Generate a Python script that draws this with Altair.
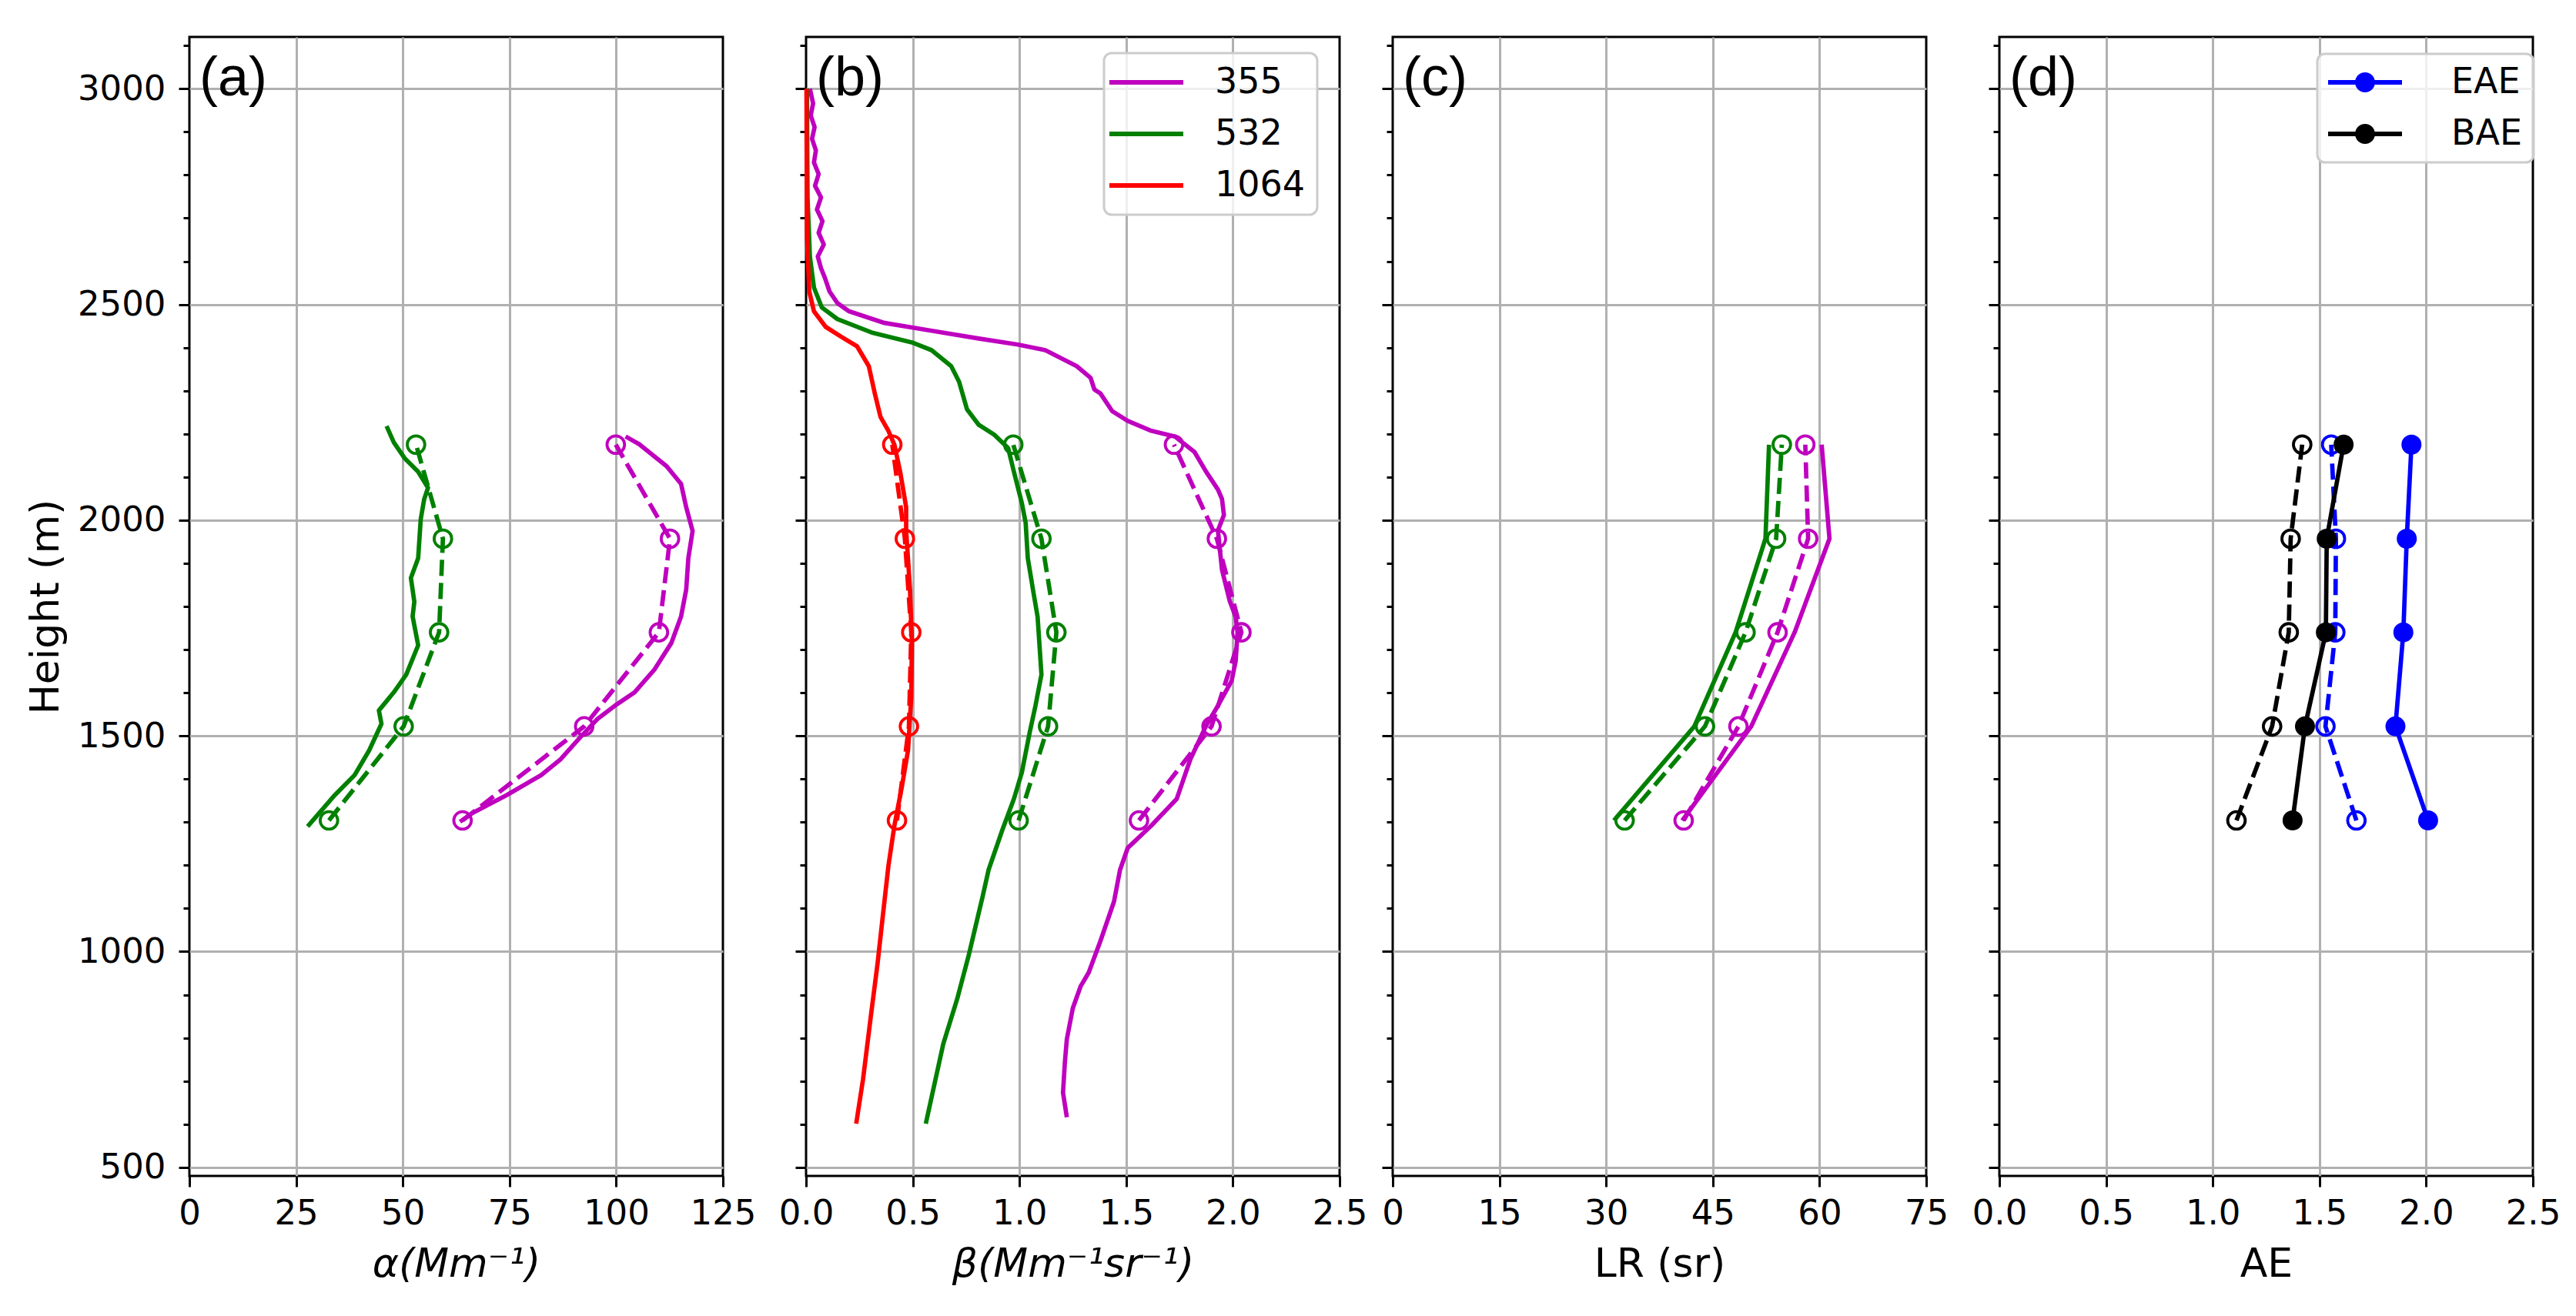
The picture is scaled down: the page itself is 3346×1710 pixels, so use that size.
import altair as alt
import pandas as pd

# ---------------- data ----------------
# heights (m) of the five layer-mean points, bottom to top
heights5 = [1304, 1522, 1740, 1957, 2175]

# (a) extinction alpha (Mm^-1), continuous profiles (top -> bottom)
alpha532_h = [2218, 2180, 2144, 2112, 2075, 2048, 2002, 1912, 1866, 1811,
              1777, 1710, 1642, 1601, 1559, 1528, 1466, 1409, 1363, 1290]
alpha532_v = [46.2, 47.9, 50.4, 53.6, 55.9, 55.0, 54.2, 53.6, 51.9, 52.7,
              52.3, 53.6, 50.8, 47.9, 44.4, 45.0, 42.1, 38.7, 34.1, 27.7]
alpha355_h = [2194, 2176, 2125, 2084, 2030, 1975, 1912, 1839, 1777, 1715,
              1653, 1601, 1570, 1539, 1497, 1446, 1409, 1363, 1321, 1301]
alpha355_v = [102.2, 105.4, 111.8, 115.2, 116.4, 117.9, 116.9, 116.4, 115.2, 112.9,
              108.9, 104.3, 99.7, 95.6, 91.6, 87.0, 82.4, 74.4, 66.3, 63.4]
# (a) layer-mean points (bottom -> top, at heights5)
alpha532_pts = [32.7, 50.2, 58.5, 59.4, 53.1]
alpha355_pts = [64.0, 92.5, 110.0, 112.6, 99.9]

# (b) backscatter beta (Mm^-1 sr^-1), continuous profiles (top -> bottom)
beta355_h = [3000, 2966, 2938, 2911, 2884, 2857, 2829, 2802, 2775, 2748,
             2720, 2693, 2666, 2639, 2611, 2584, 2562, 2530, 2503, 2484,
             2457, 2439, 2421, 2407, 2394, 2357, 2330, 2303, 2294, 2253,
             2230, 2207, 2194, 2158, 2112, 2071, 2049, 2012, 1976, 1885,
             1813, 1776, 1740, 1673, 1627, 1570, 1524, 1446, 1354, 1292,
             1240, 1189, 1116, 1024, 951, 920, 869, 797, 745, 673, 616]
beta355_v = [0.018, 0.033, 0.022, 0.040, 0.028, 0.046, 0.037, 0.059, 0.042, 0.070,
             0.051, 0.077, 0.059, 0.083, 0.055, 0.070, 0.088, 0.110, 0.147, 0.202,
             0.368, 0.588, 0.809, 0.993, 1.121, 1.268, 1.333, 1.351, 1.379, 1.434,
             1.507, 1.618, 1.728, 1.820, 1.875, 1.930, 1.949, 1.958, 1.930, 1.949,
             1.985, 2.013, 2.022, 2.013, 1.994, 1.930, 1.875, 1.801, 1.737, 1.618,
             1.507, 1.471, 1.443, 1.379, 1.324, 1.287, 1.250, 1.222, 1.213, 1.204, 1.222]
beta532_h = [3000, 2748, 2611, 2539, 2493, 2466, 2434, 2412, 2394, 2357,
             2321, 2257, 2221, 2198, 2167, 2112, 2040, 1994, 1912, 1831,
             1776, 1642, 1570, 1508, 1415, 1354, 1281, 1189, 1127, 993,
             890, 786, 601]
beta532_v = [0.004, 0.007, 0.018, 0.037, 0.074, 0.147, 0.313, 0.496, 0.588, 0.680,
             0.717, 0.754, 0.809, 0.882, 0.947, 0.974, 1.011, 1.029, 1.039, 1.066,
             1.085, 1.103, 1.075, 1.048, 1.011, 0.974, 0.919, 0.855, 0.827, 0.763,
             0.708, 0.643, 0.561]
beta1064_h = [3000, 2657, 2530, 2484, 2448, 2425, 2403, 2357, 2294, 2239,
              2207, 2175, 2112, 2030, 1976, 1840, 1715, 1591, 1467, 1385,
              1292, 1199, 1075, 972, 848, 704, 601]
beta1064_v = [0.002, 0.004, 0.015, 0.037, 0.092, 0.165, 0.239, 0.294, 0.322, 0.349,
              0.386, 0.414, 0.441, 0.469, 0.469, 0.487, 0.496, 0.493, 0.478, 0.450,
              0.414, 0.386, 0.358, 0.335, 0.303, 0.267, 0.235]
# (b) layer-mean points (bottom -> top)
beta355_pts = [1.56, 1.90, 2.04, 1.925, 1.724]
beta532_pts = [0.996, 1.134, 1.173, 1.103, 0.971]
beta1064_pts = [0.426, 0.482, 0.493, 0.463, 0.404]

# (c) lidar ratio (sr), bottom -> top
lr532_solid = [31.1, 42.4, 48.2, 52.4, 52.9]
lr355_solid = [40.7, 50.4, 56.5, 61.4, 60.3]
lr532_dash = [32.6, 43.9, 49.6, 53.9, 54.7]
lr355_dash = [40.9, 48.6, 54.1, 58.4, 58.0]

# (d) Angstrom exponents, bottom -> top
eae_solid = [2.009, 1.856, 1.893, 1.909, 1.931]
bae_solid = [1.374, 1.432, 1.530, 1.534, 1.613]
eae_dash = [1.673, 1.528, 1.574, 1.577, 1.555]
bae_dash = [1.111, 1.278, 1.356, 1.365, 1.419]

wavelengths = ["355", "532", "1064"]
ae_names = ["EAE", "BAE"]

# tick values
y_ticks = list(range(500, 3101, 100))
xa_ticks = [0, 25, 50, 75, 100, 125]
xb_ticks = [0, 0.5, 1.0, 1.5, 2.0, 2.5]
xc_ticks = [0, 15, 30, 45, 60, 75]
xd_ticks = [0, 0.5, 1.0, 1.5, 2.0, 2.5]

# ---------------- styling ----------------
MAG, GRN, RED, BLU, BLK = "#bf00bf", "#008000", "#ff0000", "#0000ff", "#000000"
LW = 5.7
DASH = [21, 9]
W, H = 693, 1480
YDOM = [480, 3120]


def frame(h, v, **extra):
    df = pd.DataFrame({"h": h, "v": v})
    df["i"] = list(range(len(df)))
    for k, val in extra.items():
        df[k] = val
    return df


TICKSIZE_Y = {"condition": {"test": "datum.value % 500 === 0", "value": 14}, "value": 8}
GRID_Y = {"condition": {"test": "datum.value % 500 === 0", "value": 1}, "value": 0}


def y_axis(show):
    if show:
        return alt.Axis(values=y_ticks, title="Height (m)", format="d",
                        labelExpr="datum.value % 500 === 0 ? datum.label : ''",
                        tickSize=TICKSIZE_Y, gridOpacity=GRID_Y,
                        labelPadding=17, titlePadding=14)
    return alt.Axis(values=y_ticks, title=None, labels=False,
                    tickSize=TICKSIZE_Y, gridOpacity=GRID_Y)


def x_axis(vals, fmt, title, vmax, italic):
    return alt.Axis(values=vals, format=fmt, title=title, tickSize=14,
                    gridOpacity={"condition": {"test": f"datum.value > 0 && datum.value < {vmax}", "value": 1}, "value": 0},
                    titleFontStyle="italic" if italic else "normal",
                    labelPadding=12, titlePadding=18)


def enc(xdom, xax, yax):
    return dict(
        x=alt.X("v:Q", scale=alt.Scale(domain=xdom, nice=False, zero=False), axis=xax),
        y=alt.Y("h:Q", scale=alt.Scale(domain=YDOM, nice=False, zero=False), axis=yax),
        order=alt.Order("i:Q"),
    )


def solid(df, color, e):
    return alt.Chart(df).mark_line(color=color, strokeWidth=LW, strokeJoin="round").encode(**e)


def dashed(df, color, e):
    return alt.Chart(df).mark_line(color=color, strokeWidth=LW, strokeDash=DASH).encode(**e)


def opencirc(df, color, e):
    return alt.Chart(df).mark_point(shape="circle", size=520, filled=False, stroke=color,
                                    strokeWidth=3.8, opacity=1).encode(**e)


def panel_label(txt):
    return alt.Chart(pd.DataFrame({"t": [txt]})).mark_text(
        font="Liberation Sans", fontSize=72, align="left", baseline="alphabetic", color="black"
    ).encode(x=alt.value(13), y=alt.value(76), text="t:N")


# ---------------- panel (a) ----------------
ea = enc([0, 125], x_axis(xa_ticks, "d", "α(Mm⁻¹)", 125, True), y_axis(True))
pa = alt.layer(
    solid(frame(alpha532_h, alpha532_v), GRN, ea),
    solid(frame(alpha355_h, alpha355_v), MAG, ea),
    dashed(frame(heights5, alpha532_pts), GRN, ea),
    opencirc(frame(heights5, alpha532_pts), GRN, ea),
    dashed(frame(heights5, alpha355_pts), MAG, ea),
    opencirc(frame(heights5, alpha355_pts), MAG, ea),
    panel_label("(a)"),
).properties(width=W, height=H)

# ---------------- panel (b) ----------------
eb = enc([0, 2.5], x_axis(xb_ticks, ".1f", "β(Mm⁻¹sr⁻¹)", 2.5, True), y_axis(False))
beta_long = pd.concat([
    frame(beta355_h, beta355_v, wl="355"),
    frame(beta532_h, beta532_v, wl="532"),
    frame(beta1064_h, beta1064_v, wl="1064"),
], ignore_index=True)
# legend symbol: a 96 px horizontal stroke drawn from a small nominal symbol size
legend_b = alt.Legend(orient="none", legendX=387, legendY=21, fillColor="rgba(255,255,255,0.8)",
                      strokeColor="#cccccc", cornerRadius=10, padding=15,
                      symbolType="M-4,0H4", symbolSize=576, symbolStrokeWidth=6,
                      symbolOffset=17, labelOffset=66,
                      labelFont="DejaVu Sans", labelFontSize=46, labelColor="black",
                      rowPadding=21)
b_lines = alt.Chart(beta_long).mark_line(strokeWidth=LW, strokeJoin="round").encode(
    color=alt.Color("wl:N", title=None,
                    scale=alt.Scale(domain=wavelengths, range=[MAG, GRN, RED]),
                    legend=legend_b),
    detail="wl:N",
    **eb,
)
b_layers = [b_lines]
for pts, col in [(beta355_pts, MAG), (beta532_pts, GRN), (beta1064_pts, RED)]:
    b_layers.append(dashed(frame(heights5, pts), col, eb))
    b_layers.append(opencirc(frame(heights5, pts), col, eb))
b_layers.append(panel_label("(b)"))
pb = alt.layer(*b_layers).properties(width=W, height=H)

# ---------------- panel (c) ----------------
ec = enc([0, 75], x_axis(xc_ticks, "d", "LR (sr)", 75, False), y_axis(False))
pc = alt.layer(
    solid(frame(heights5, lr532_solid), GRN, ec),
    solid(frame(heights5, lr355_solid), MAG, ec),
    dashed(frame(heights5, lr532_dash), GRN, ec),
    opencirc(frame(heights5, lr532_dash), GRN, ec),
    dashed(frame(heights5, lr355_dash), MAG, ec),
    opencirc(frame(heights5, lr355_dash), MAG, ec),
    panel_label("(c)"),
).properties(width=W, height=H)

# ---------------- panel (d) ----------------
ed = enc([0, 2.5], x_axis(xd_ticks, ".1f", "AE", 2.5, False), y_axis(False))
# legend symbol: line (96 px) with a filled marker in the middle
legend_path = ("M-4,-0.25H4V0.25H-4Z "
               "M1.083,0A1.083,1.083,0,1,1,-1.083,0A1.083,1.083,0,1,1,1.083,0Z")
legend_d = alt.Legend(orient="none", legendX=413, legendY=22, fillColor="rgba(255,255,255,0.8)",
                      strokeColor="#cccccc", cornerRadius=10, padding=14,
                      symbolType=legend_path, symbolSize=576, symbolStrokeWidth=0,
                      symbolOffset=25, labelOffset=89,
                      labelFont="DejaVu Sans", labelFontSize=46, labelColor="black",
                      rowPadding=21)
ae_pts = pd.concat([
    frame(heights5, eae_solid, name="EAE"),
    frame(heights5, bae_solid, name="BAE"),
], ignore_index=True)
pd_chart = alt.layer(
    dashed(frame(heights5, eae_dash), BLU, ed),
    opencirc(frame(heights5, eae_dash), BLU, ed),
    dashed(frame(heights5, bae_dash), BLK, ed),
    opencirc(frame(heights5, bae_dash), BLK, ed),
    solid(frame(heights5, eae_solid), BLU, ed),
    solid(frame(heights5, bae_solid), BLK, ed),
    alt.Chart(ae_pts).mark_circle(size=676, opacity=1).encode(
        color=alt.Color("name:N", title=None,
                        scale=alt.Scale(domain=ae_names, range=[BLU, BLK]),
                        legend=legend_d),
        **ed,
    ),
    panel_label("(d)"),
).properties(width=W, height=H)

left_pair = alt.hconcat(pa, pb, spacing=25).resolve_scale(color="independent").resolve_legend(color="independent")
right_pair = alt.hconcat(pc, pd_chart, spacing=26).resolve_scale(color="independent").resolve_legend(color="independent")

chart = alt.hconcat(
    left_pair, right_pair, spacing=14,
).resolve_scale(
    color="independent"
).resolve_legend(
    color="independent"
).properties(
    padding={"left": 31, "top": 35, "right": 5, "bottom": 5},
    background="white",
).configure_view(
    stroke="black", strokeWidth=3
).configure_legend(
    strokeWidth=3
).configure_axis(
    domain=False, tickColor="black", tickWidth=3,
    labelColor="black", labelFont="DejaVu Sans", labelFontSize=45,
    labelFlush=False, labelOverlap=False,
    titleFont="DejaVu Sans", titleFontSize=52, titleFontWeight="normal", titleColor="black",
    gridColor="#b0b0b0", gridWidth=3,
)

chart.save("out.html", embed_options={"renderer": "svg", "actions": False})
